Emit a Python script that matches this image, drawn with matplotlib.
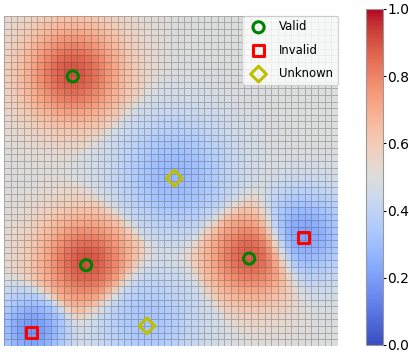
import numpy as np
import matplotlib
matplotlib.use("Agg")
import matplotlib.pyplot as plt

# grid size (cells per side)
n = 50

# labelled points, in cell units (y grows downward)
valid_x = [10.3, 12.3, 36.7]
valid_y = [9.2, 37.8, 36.8]
invalid_x = [4.1, 44.8]
invalid_y = [48.0, 33.6]
unknown_x = [25.5, 21.4]
unknown_y = [24.6, 47.0]

# score at each point and how far its influence spreads (cells)
valid_score = [0.90, 0.90, 0.88]
invalid_score = [0.18, 0.22]
unknown_score = [0.28, 0.33]
valid_spread = [5.6, 5.4, 5.2]
invalid_spread = [4.0, 5.0]
unknown_spread = [6.5, 6.0]

px = np.array(valid_x + invalid_x + unknown_x)
py = np.array(valid_y + invalid_y + unknown_y)
score = np.array(valid_score + invalid_score + unknown_score)
spread = np.array(valid_spread + invalid_spread + unknown_spread)

# score field sampled at the lower edge of each row; each cell follows the
# point whose kernel dominates it
cx, cy = np.meshgrid(np.arange(n) + 0.5, np.arange(n) + 1.0)
d2 = (cx[None] - px[:, None, None]) ** 2 + (cy[None] - py[:, None, None]) ** 2
g = np.exp(-d2 / (2 * spread[:, None, None] ** 2))
w = g ** 4 + 1e-300
w = w / w.sum(axis=0)
field = 0.5 + (w * (score[:, None, None] - 0.5) * g).sum(axis=0)

fig = plt.figure(figsize=(4.1, 3.56), dpi=100)
ax = fig.add_axes([4 / 410, 10.3 / 356, 334 / 410, 330 / 356])
mesh = ax.pcolormesh(np.arange(n + 1), np.arange(n + 1), field, cmap="coolwarm",
                     vmin=0, vmax=1, edgecolors=(0.25, 0.25, 0.25, 0.32), linewidth=0.4)
ax.set_xlim(0, n)
ax.set_ylim(n, 0)
ax.axis("off")

ax.scatter(valid_x, valid_y, s=64, marker="o", facecolors="none", edgecolors="green",
           linewidths=2.2, label="Valid", zorder=3)
ax.scatter(invalid_x, invalid_y, s=64, marker="s", facecolors="none", edgecolors="red",
           linewidths=2.2, label="Invalid", zorder=3)
ax.scatter(unknown_x, unknown_y, s=64, marker="D", facecolors="none", edgecolors="y",
           linewidths=2.2, label="Unknown", zorder=3)
ax.legend(loc="upper right", fontsize="small", labelspacing=0.9, borderaxespad=0,
          scatterpoints=1, framealpha=0.8)

cax = fig.add_axes([366 / 410, 11 / 356, 17 / 410, 336 / 356])
cb = fig.colorbar(mesh, cax=cax)
cb.outline.set_edgecolor("0.6")
cb.ax.tick_params(length=2, pad=1, labelsize=10)

fig.savefig("out.png", dpi=100)
